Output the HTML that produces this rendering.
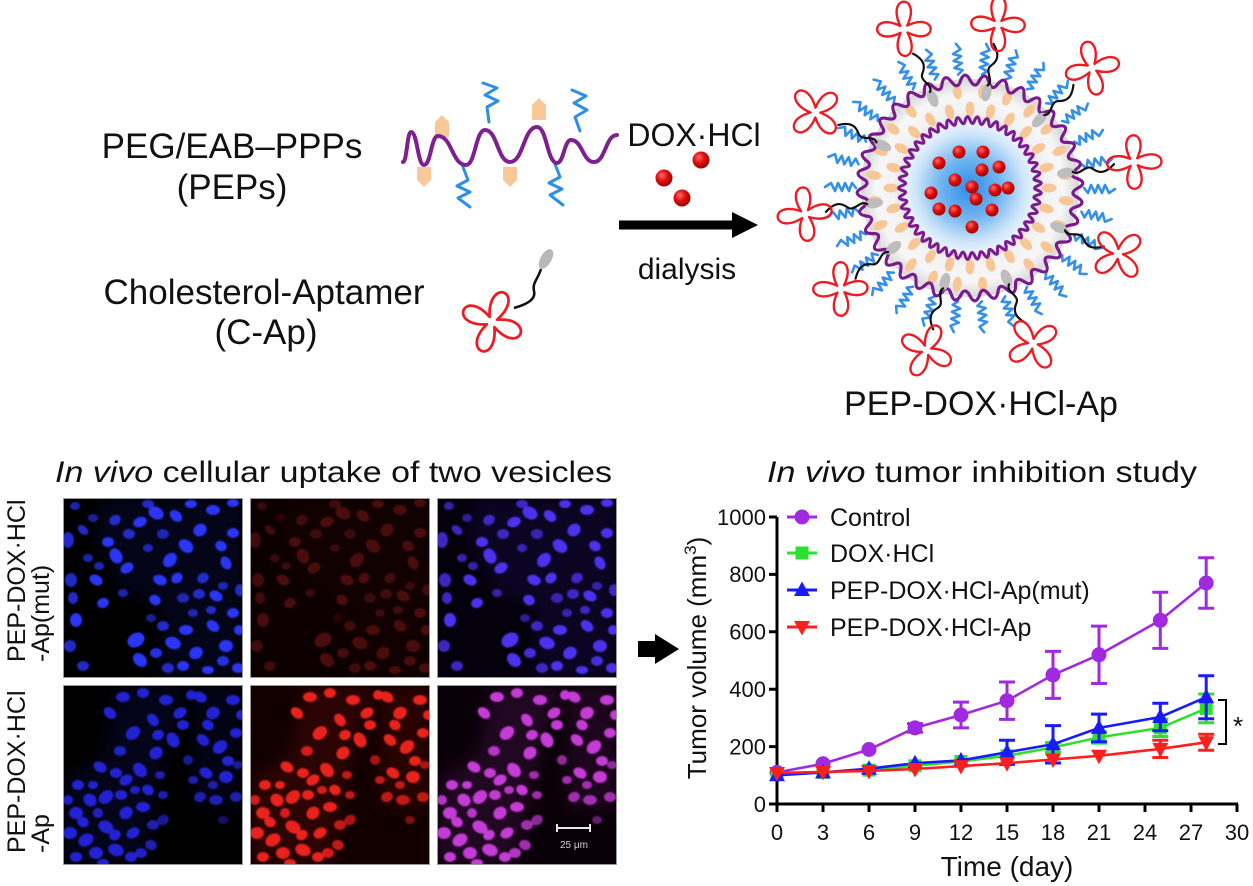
<!DOCTYPE html>
<html><head><meta charset="utf-8"><style>
html,body{margin:0;padding:0;background:#fff;}
svg{display:block;}
text{font-family:"Liberation Sans",Arial,sans-serif;fill:#111;}
</style></head><body>
<svg width="1253" height="886" viewBox="0 0 1253 886" xmlns="http://www.w3.org/2000/svg">
<defs>
  <radialGradient id="rb" cx="38%" cy="35%" r="65%"><stop offset="0" stop-color="#ff6a6a"/><stop offset="0.5" stop-color="#e01010"/><stop offset="1" stop-color="#a00000"/></radialGradient>
  <radialGradient id="coreG" gradientUnits="userSpaceOnUse" cx="0" cy="0" r="68"><stop offset="0" stop-color="#2c8ce8"/><stop offset="0.45" stop-color="#72b6f0"/><stop offset="0.8" stop-color="#cfe6f9"/><stop offset="1" stop-color="#eef6fd"/></radialGradient>
  <radialGradient id="shellG" gradientUnits="userSpaceOnUse" cx="0" cy="0" r="110"><stop offset="0.55" stop-color="#d8d8d8"/><stop offset="0.7" stop-color="#f3f3f3"/><stop offset="0.85" stop-color="#f7f7f7"/><stop offset="1" stop-color="#d4d4d4"/></radialGradient>
  <g id="clv" fill="none" stroke="#ec1c24" stroke-width="2.6" stroke-linejoin="round">
    <path d="M3,-3 C17,-30 -15,-31 -3,-3 C-29,-17 -30,15 -3,3 C-16,29 16,30 3,3 C29,17 30,-15 3,-3 Z"/>
  </g>
  <g id="clvB" fill="none" stroke="#ec1c24" stroke-width="2.4" stroke-linejoin="round">
    <path d="M3.5,-3.5 C20,-35 -17,-36 -3.5,-3.5 C-34,-20 -35,17 -3.5,3.5 C-18,34 18,35 3.5,3.5 C34,20 35,-17 3.5,-3.5 Z"/>
  </g>
  <path id="wo" d="M-9.41,-107.59 Q-5.15,-117.89 0,-108 T9.41,-107.59"/>
  <g id="wo6"><use href="#wo"/><use href="#wo" transform="rotate(10)"/><use href="#wo" transform="rotate(20)"/><use href="#wo" transform="rotate(30)"/><use href="#wo" transform="rotate(40)"/><use href="#wo" transform="rotate(50)"/></g>
  <path id="wi" d="M-4.74,-67.83 Q-2.62,-74.95 0,-68 T4.74,-67.83"/>
  <g id="wi5"><use href="#wi"/><use href="#wi" transform="rotate(8)"/><use href="#wi" transform="rotate(16)"/><use href="#wi" transform="rotate(24)"/><use href="#wi" transform="rotate(32)"/></g>
  <ellipse id="oe" cx="0" cy="-79" rx="4.5" ry="7.5"/>
  <g id="oe4"><use href="#oe"/><use href="#oe" transform="rotate(15)"/><use href="#oe" transform="rotate(30)"/><use href="#oe" transform="rotate(45)"/></g>
  <ellipse id="oo" cx="0" cy="-97" rx="4.5" ry="7.5"/>
  <g id="oo4"><use href="#oo"/><use href="#oo" transform="rotate(15)"/><use href="#oo" transform="rotate(30)"/><use href="#oo" transform="rotate(45)"/></g>
  <path id="sq" d="M0,-114 l5,-4 -8,-3 8,-4 -8,-3 8,-4 -8,-3 8,-4 -4,-6"/>
  <path id="lk" d="M0,-104 C6,-110 -6,-118 0,-124 S7,-136 -1,-146"/>
  <clipPath id="pc"><rect x="0" y="0" width="180" height="180"/></clipPath>
  <filter id="bl" x="-10%" y="-10%" width="120%" height="120%"><feGaussianBlur stdDeviation="0.9"/></filter>
  <filter id="bl2" x="-20%" y="-20%" width="140%" height="140%"><feGaussianBlur stdDeviation="8"/></filter>
  <g id="cellsA">
    <polygon points="40,0 180,0 180,180 95,180 100,110 60,92 30,40" opacity="0.1" filter="url(#bl2)"/>
    <g filter="url(#bl)">
    <ellipse cx="93" cy="15" rx="8" ry="6" transform="rotate(30 93 15)"/>
    <ellipse cx="77" cy="24" rx="7" ry="5" transform="rotate(-20 77 24)"/>
    <ellipse cx="113" cy="18" rx="7" ry="5" transform="rotate(40 113 18)"/>
    <ellipse cx="100" cy="36" rx="6" ry="5" opacity="0.7"/>
    <ellipse cx="53" cy="58" rx="8" ry="6" transform="rotate(60 53 58)"/>
    <ellipse cx="45" cy="44" rx="6" ry="5"/>
    <ellipse cx="64" cy="70" rx="7" ry="5" transform="rotate(-30 64 70)"/>
    <ellipse cx="107" cy="62" rx="8" ry="6" transform="rotate(-50 107 62)"/>
    <ellipse cx="123" cy="48" rx="8" ry="6" transform="rotate(40 123 48)"/>
    <ellipse cx="97" cy="82" rx="7" ry="5" transform="rotate(20 97 82)"/>
    <ellipse cx="137" cy="32" rx="7" ry="6" transform="rotate(-40 137 32)"/>
    <ellipse cx="150" cy="12" rx="7" ry="5"/>
    <ellipse cx="163" cy="65" rx="7" ry="5" transform="rotate(60 163 65)"/>
    <ellipse cx="153" cy="98" rx="7" ry="5" transform="rotate(30 153 98)"/>
    <ellipse cx="170" cy="115" rx="6" ry="5"/>
    <ellipse cx="5" cy="42" rx="6" ry="8" opacity="0.8"/>
    <ellipse cx="8" cy="82" rx="6" ry="7" opacity="0.8"/>
    <ellipse cx="13" cy="122" rx="6" ry="7"/>
    <ellipse cx="7" cy="148" rx="6" ry="6" opacity="0.8"/>
    <ellipse cx="33" cy="82" rx="7" ry="5" transform="rotate(30 33 82)"/>
    <ellipse cx="40" cy="105" rx="6" ry="5" transform="rotate(-20 40 105)"/>
    <ellipse cx="73" cy="142" rx="9" ry="7" transform="rotate(-30 73 142)"/>
    <ellipse cx="77" cy="162" rx="8" ry="6" transform="rotate(45 77 162)"/>
    <ellipse cx="110" cy="145" rx="8" ry="6" transform="rotate(20 110 145)"/>
    <ellipse cx="123" cy="132" rx="7" ry="5"/>
    <ellipse cx="133" cy="155" rx="7" ry="6" transform="rotate(-30 133 155)"/>
    <ellipse cx="150" cy="128" rx="7" ry="5" transform="rotate(40 150 128)"/>
    <ellipse cx="163" cy="148" rx="7" ry="6"/>
    <ellipse cx="20" cy="168" rx="6" ry="5" opacity="0.8"/>
    <ellipse cx="140" cy="80" rx="6" ry="5" transform="rotate(-30 140 80)" opacity="0.8"/>
    <ellipse cx="120" cy="100" rx="6" ry="5" opacity="0.7"/>
    <ellipse cx="170" cy="35" rx="6" ry="5"/>
    <ellipse cx="25" cy="60" rx="5" ry="4" opacity="0.7"/>
    <ellipse cx="60" cy="95" rx="5" ry="4" opacity="0.7"/>
    <ellipse cx="175" cy="170" rx="6" ry="5"/>
    <ellipse cx="145" cy="172" rx="6" ry="4"/>
    <ellipse cx="105" cy="170" rx="6" ry="5" opacity="0.8"/>
    <ellipse cx="85" cy="50" rx="5" ry="4" opacity="0.7"/>
    <ellipse cx="30" cy="20" rx="5" ry="4" opacity="0.6"/>
    <ellipse cx="160" cy="88" rx="5" ry="4" opacity="0.7"/>
    <ellipse cx="130" cy="115" rx="5" ry="4" opacity="0.7"/>
    <ellipse cx="88" cy="120" rx="5" ry="4" opacity="0.6"/>
    <ellipse cx="12" cy="8" rx="5" ry="4" opacity="0.7"/>
    <ellipse cx="20" cy="32" rx="6" ry="4" transform="rotate(40 20 32)" opacity="0.8"/>
    <ellipse cx="36" cy="68" rx="5" ry="4" opacity="0.7"/>
    <ellipse cx="52" cy="22" rx="6" ry="5" transform="rotate(-30 52 22)" opacity="0.8"/>
    <ellipse cx="66" cy="36" rx="6" ry="5" opacity="0.8"/>
    <ellipse cx="85" cy="6" rx="6" ry="4" opacity="0.8"/>
    <ellipse cx="128" cy="6" rx="6" ry="4"/>
    <ellipse cx="158" cy="48" rx="6" ry="5" transform="rotate(30 158 48)"/>
    <ellipse cx="177" cy="92" rx="5" ry="6" opacity="0.8"/>
    <ellipse cx="114" cy="80" rx="6" ry="5" transform="rotate(-40 114 80)"/>
    <ellipse cx="136" cy="96" rx="6" ry="5" opacity="0.8"/>
    <ellipse cx="148" cy="112" rx="5" ry="4" opacity="0.8"/>
    <ellipse cx="92" cy="102" rx="6" ry="5" transform="rotate(30 92 102)"/>
    <ellipse cx="10" cy="100" rx="5" ry="6" opacity="0.8"/>
    <ellipse cx="170" cy="5" rx="6" ry="4"/>
    <ellipse cx="100" cy="128" rx="6" ry="5" opacity="0.8"/>
    <ellipse cx="120" cy="168" rx="6" ry="5"/>
    <ellipse cx="160" cy="163" rx="6" ry="5" opacity="0.9"/>
    <ellipse cx="176" cy="132" rx="5" ry="5"/>
    <ellipse cx="93" cy="155" rx="6" ry="5" opacity="0.9"/>
    </g>
  </g>
  <g id="cellsB">
    <polygon points="0,95 40,70 55,0 125,0 100,80 80,180 0,180" opacity="0.12" filter="url(#bl2)"/>
    <polygon points="130,0 180,0 180,125 130,120" opacity="0.1" filter="url(#bl2)"/>
    <g filter="url(#bl)">
    <ellipse cx="47" cy="28" rx="7" ry="5" transform="rotate(40 47 28)"/>
    <ellipse cx="60" cy="12" rx="7" ry="5"/>
    <ellipse cx="70" cy="48" rx="8" ry="6" transform="rotate(-40 70 48)"/>
    <ellipse cx="90" cy="35" rx="7" ry="5" transform="rotate(50 90 35)"/>
    <ellipse cx="103" cy="15" rx="7" ry="5"/>
    <ellipse cx="117" cy="28" rx="7" ry="5" transform="rotate(-30 117 28)"/>
    <ellipse cx="110" cy="55" rx="8" ry="6" transform="rotate(60 110 55)"/>
    <ellipse cx="93" cy="68" rx="7" ry="6" transform="rotate(-40 93 68)"/>
    <ellipse cx="77" cy="85" rx="8" ry="6" transform="rotate(50 77 85)"/>
    <ellipse cx="63" cy="95" rx="7" ry="5" transform="rotate(-30 63 95)"/>
    <ellipse cx="53" cy="88" rx="6" ry="5"/>
    <ellipse cx="37" cy="82" rx="7" ry="5" transform="rotate(30 37 82)"/>
    <ellipse cx="43" cy="112" rx="8" ry="6" transform="rotate(-40 43 112)"/>
    <ellipse cx="27" cy="115" rx="7" ry="6" transform="rotate(40 27 115)"/>
    <ellipse cx="13" cy="128" rx="7" ry="6"/>
    <ellipse cx="7" cy="148" rx="7" ry="6"/>
    <ellipse cx="23" cy="155" rx="8" ry="6" transform="rotate(-30 23 155)"/>
    <ellipse cx="43" cy="142" rx="8" ry="6" transform="rotate(30 43 142)"/>
    <ellipse cx="63" cy="128" rx="7" ry="6" transform="rotate(-40 63 128)"/>
    <ellipse cx="80" cy="122" rx="7" ry="5"/>
    <ellipse cx="53" cy="165" rx="8" ry="6" transform="rotate(20 53 165)"/>
    <ellipse cx="33" cy="168" rx="7" ry="6"/>
    <ellipse cx="70" cy="148" rx="7" ry="5" transform="rotate(-30 70 148)"/>
    <ellipse cx="13" cy="172" rx="6" ry="5"/>
    <ellipse cx="15" cy="100" rx="6" ry="5"/>
    <ellipse cx="68" cy="172" rx="6" ry="5"/>
    <ellipse cx="137" cy="12" rx="7" ry="5" transform="rotate(30 137 12)"/>
    <ellipse cx="150" cy="28" rx="7" ry="6" transform="rotate(-30 150 28)"/>
    <ellipse cx="170" cy="15" rx="7" ry="5"/>
    <ellipse cx="140" cy="55" rx="7" ry="5" transform="rotate(40 140 55)"/>
    <ellipse cx="157" cy="62" rx="8" ry="6" transform="rotate(-40 157 62)"/>
    <ellipse cx="173" cy="48" rx="6" ry="5"/>
    <ellipse cx="143" cy="88" rx="7" ry="5" transform="rotate(30 143 88)"/>
    <ellipse cx="163" cy="92" rx="7" ry="6"/>
    <ellipse cx="137" cy="112" rx="6" ry="5" transform="rotate(-20 137 112)" opacity="0.8"/>
    <ellipse cx="153" cy="115" rx="7" ry="5" opacity="0.8"/>
    <ellipse cx="173" cy="112" rx="6" ry="5" opacity="0.8"/>
    <ellipse cx="85" cy="105" rx="6" ry="5" transform="rotate(30 85 105)"/>
    <ellipse cx="97" cy="90" rx="5" ry="4" opacity="0.8"/>
    <ellipse cx="125" cy="75" rx="5" ry="5" opacity="0.7"/>
    <ellipse cx="100" cy="135" rx="6" ry="5" transform="rotate(-30 100 135)" opacity="0.7"/>
    <ellipse cx="88" cy="160" rx="6" ry="5" transform="rotate(20 88 160)" opacity="0.8"/>
    <ellipse cx="120" cy="40" rx="6" ry="5"/>
    <ellipse cx="30" cy="100" rx="5" ry="4"/>
    <ellipse cx="175" cy="80" rx="5" ry="4" opacity="0.7"/>
    <ellipse cx="160" cy="135" rx="5" ry="4" opacity="0.5"/>
    <ellipse cx="5" cy="115" rx="5" ry="5" opacity="0.9"/>
    <ellipse cx="20" cy="137" rx="6" ry="5" transform="rotate(30 20 137)"/>
    <ellipse cx="35" cy="128" rx="5" ry="5" opacity="0.9"/>
    <ellipse cx="52" cy="150" rx="6" ry="5" transform="rotate(-30 52 150)"/>
    <ellipse cx="58" cy="110" rx="6" ry="5"/>
    <ellipse cx="72" cy="105" rx="5" ry="4" opacity="0.9"/>
    <ellipse cx="90" cy="140" rx="6" ry="5" opacity="0.8"/>
    <ellipse cx="78" cy="168" rx="6" ry="5" opacity="0.9"/>
    <ellipse cx="40" cy="178" rx="6" ry="4"/>
    <ellipse cx="100" cy="110" rx="5" ry="4" opacity="0.8"/>
    <ellipse cx="128" cy="10" rx="5" ry="5"/>
    <ellipse cx="145" cy="40" rx="6" ry="5" transform="rotate(30 145 40)"/>
    <ellipse cx="165" cy="76" rx="6" ry="5"/>
    <ellipse cx="150" cy="100" rx="5" ry="4" opacity="0.8"/>
    <ellipse cx="178" cy="30" rx="5" ry="5"/>
    <ellipse cx="130" cy="95" rx="5" ry="4" opacity="0.8"/>
    <ellipse cx="80" cy="8" rx="6" ry="5"/>
    <ellipse cx="95" cy="50" rx="6" ry="5" transform="rotate(-20 95 50)"/>
    <ellipse cx="57" cy="66" rx="6" ry="5" opacity="0.9"/>
    </g>
  </g>
  <circle id="mc" r="7.5" fill="#a12ae0"/>
  <rect id="ms" x="-6.5" y="-6.5" width="13" height="13" fill="#2ee02e"/>
  <polygon id="mt" points="0,-8.5 8,6 -8,6" fill="#1a1aff"/>
  <polygon id="mv" points="-8,-6 8,-6 0,8.5" fill="#ff1e1e"/>
</defs>

<rect width="1253" height="886" fill="#fff"/>

<!-- Top-left schematic text -->
<text x="232" y="158" font-size="35" text-anchor="middle">PEG/EAB–PPPs</text>
<text x="232" y="199" font-size="35" text-anchor="middle">(PEPs)</text>
<text x="264" y="304" font-size="35" text-anchor="middle">Cholesterol-Aptamer</text>
<text x="266" y="344" font-size="35" text-anchor="middle">(C-Ap)</text>

<!-- polymer chain -->
<g fill="#f8c898">
  <polygon points="435,122 442,115 449,122 449,137 435,137"/>
  <polygon points="532,105 539,98 546,105 546,120 532,120"/>
  <polygon points="417,167 431,167 431,180 424,187 417,180"/>
  <polygon points="503,167 517,167 517,180 510,187 503,180"/>
</g>
<g fill="none" stroke="#2b8fe8" stroke-width="3" stroke-linejoin="round" stroke-linecap="round">
  <path d="M483,83 L497,88 L485,95 L498,101 L487,107 L489,122"/>
  <path d="M572,90 L586,96 L574,103 L587,110 L575,117 L580,131"/>
  <path d="M463,167 L468,180 L457,186 L470,192 L458,198 L470,207"/>
  <path d="M555,164 L560,177 L549,183 L562,189 L550,195 L563,205"/>
</g>
<path d="M403,162 C407,162 407,132 411,132 C417.5,132 417.5,165 424,165 C431,165 431,136 438,136 C452,136 452,165 466,165 C475.5,165 475.5,130 485,130 C497.5,130 497.5,162 510,162 C523.5,162 523.5,127 537,127 C547,127 547,163 557,163 C564,163 564,140 571,140 C582.5,140 582.5,162 594,162 C605.5,162 605.5,135 617,135" fill="none" stroke="#7d2090" stroke-width="4" stroke-linecap="round"/>

<!-- cholesterol-aptamer -->
<ellipse cx="546" cy="259" rx="5.5" ry="11" fill="#b8b8b8" transform="rotate(30 546 259)"/>
<path d="M541,269 C538,279 532,283 534,291 S528,304 514,308" fill="none" stroke="#111" stroke-width="2.5"/>
<use href="#clvB" transform="translate(492,322) scale(1.15) rotate(20)"/>

<!-- DOX + arrow -->
<text x="694" y="146" font-size="32" text-anchor="middle">DOX·HCl</text>
<circle cx="701" cy="160" r="8.5" fill="url(#rb)"/>
<circle cx="664" cy="178" r="8.5" fill="url(#rb)"/>
<circle cx="682" cy="198" r="8.5" fill="url(#rb)"/>
<rect x="619" y="220.5" width="116" height="9" fill="#000"/>
<polygon points="732,212 758,225 732,238" fill="#000"/>
<text x="687" y="279" font-size="30" text-anchor="middle">dialysis</text>

<!-- Vesicle -->
<g transform="translate(970,188)">
  <circle r="109" fill="url(#shellG)"/>
  <g fill="#f8c797">
    <use href="#oe4"/><use href="#oe4" transform="rotate(60)"/><use href="#oe4" transform="rotate(120)"/><use href="#oe4" transform="rotate(180)"/><use href="#oe4" transform="rotate(240)"/><use href="#oe4" transform="rotate(300)"/>
    <use href="#oo4" transform="rotate(7.5)"/><use href="#oo4" transform="rotate(67.5)"/><use href="#oo4" transform="rotate(127.5)"/><use href="#oo4" transform="rotate(187.5)"/><use href="#oo4" transform="rotate(247.5)"/><use href="#oo4" transform="rotate(307.5)"/>
  </g>
  <circle r="67" fill="url(#coreG)"/>
  <g fill="url(#rb)">
    <circle cx="-11" cy="-36" r="6.5"/><circle cx="13" cy="-36" r="6.5"/><circle cx="-31" cy="-25" r="6.5"/>
    <circle cx="12" cy="-18" r="6.5"/><circle cx="29" cy="-21" r="6.5"/><circle cx="-15" cy="-8" r="6.5"/>
    <circle cx="2" cy="-1" r="6.5"/><circle cx="25" cy="2" r="6.5"/><circle cx="38" cy="0" r="6.5"/>
    <circle cx="-39" cy="5" r="6.5"/><circle cx="6" cy="11" r="6.5"/><circle cx="-31" cy="21" r="6.5"/>
    <circle cx="-15" cy="23" r="6.5"/><circle cx="22" cy="22" r="6.5"/><circle cx="2" cy="39" r="6.5"/>
  </g>
  <g fill="none" stroke="#7a1a8e" stroke-width="3" stroke-linecap="round">
    <use href="#wi5"/><use href="#wi5" transform="rotate(40)"/><use href="#wi5" transform="rotate(80)"/><use href="#wi5" transform="rotate(120)"/><use href="#wi5" transform="rotate(160)"/><use href="#wi5" transform="rotate(200)"/><use href="#wi5" transform="rotate(240)"/><use href="#wi5" transform="rotate(280)"/><use href="#wi5" transform="rotate(320)"/>
  </g>
  <g fill="none" stroke="#3590ea" stroke-width="2.6" stroke-linejoin="round" stroke-linecap="round">
    <use href="#sq" transform="rotate(6)"/><use href="#sq" transform="rotate(18)"/><use href="#sq" transform="rotate(30)"/><use href="#sq" transform="rotate(42)"/><use href="#sq" transform="rotate(54)"/><use href="#sq" transform="rotate(66)"/><use href="#sq" transform="rotate(78)"/><use href="#sq" transform="rotate(90)"/><use href="#sq" transform="rotate(102)"/><use href="#sq" transform="rotate(114)"/>
    <use href="#sq" transform="rotate(126)"/><use href="#sq" transform="rotate(138)"/><use href="#sq" transform="rotate(150)"/><use href="#sq" transform="rotate(162)"/><use href="#sq" transform="rotate(174)"/><use href="#sq" transform="rotate(186)"/><use href="#sq" transform="rotate(198)"/><use href="#sq" transform="rotate(210)"/><use href="#sq" transform="rotate(222)"/><use href="#sq" transform="rotate(234)"/>
    <use href="#sq" transform="rotate(246)"/><use href="#sq" transform="rotate(258)"/><use href="#sq" transform="rotate(270)"/><use href="#sq" transform="rotate(282)"/><use href="#sq" transform="rotate(294)"/><use href="#sq" transform="rotate(306)"/><use href="#sq" transform="rotate(318)"/><use href="#sq" transform="rotate(330)"/><use href="#sq" transform="rotate(342)"/><use href="#sq" transform="rotate(354)"/>
  </g>
  <g fill="none" stroke="#7a1a8e" stroke-width="3.2" stroke-linecap="round">
    <use href="#wo6"/><use href="#wo6" transform="rotate(60)"/><use href="#wo6" transform="rotate(120)"/><use href="#wo6" transform="rotate(180)"/><use href="#wo6" transform="rotate(240)"/><use href="#wo6" transform="rotate(300)"/>
  </g>
  <g stroke-linecap="round">
    <g transform="rotate(-22.6)"><ellipse cx="0" cy="-97" rx="5" ry="9" fill="#bdbdbd"/><use href="#lk" fill="none" stroke="#111" stroke-width="2.2"/><use href="#clvB" transform="translate(0,-172) rotate(20)"/></g>
    <g transform="rotate(9.7)"><ellipse cx="0" cy="-97" rx="5" ry="9" fill="#bdbdbd"/><use href="#lk" fill="none" stroke="#111" stroke-width="2.2"/><use href="#clvB" transform="translate(0,-166) rotate(-10)"/></g>
    <g transform="rotate(45.5)"><ellipse cx="0" cy="-97" rx="5" ry="9" fill="#bdbdbd"/><use href="#lk" fill="none" stroke="#111" stroke-width="2.2"/><use href="#clvB" transform="translate(0,-171) rotate(30)"/></g>
    <g transform="rotate(81)"><ellipse cx="0" cy="-97" rx="5" ry="9" fill="#bdbdbd"/><use href="#lk" fill="none" stroke="#111" stroke-width="2.2"/><use href="#clvB" transform="translate(0,-166) rotate(5)"/></g>
    <g transform="rotate(114)"><ellipse cx="0" cy="-97" rx="5" ry="9" fill="#bdbdbd"/><use href="#lk" fill="none" stroke="#111" stroke-width="2.2"/><use href="#clvB" transform="translate(0,-162) rotate(25)"/></g>
    <g transform="rotate(158)"><ellipse cx="0" cy="-97" rx="5" ry="9" fill="#bdbdbd"/><use href="#lk" fill="none" stroke="#111" stroke-width="2.2"/><use href="#clvB" transform="translate(0,-168) rotate(-15)"/></g>
    <g transform="rotate(195)"><ellipse cx="0" cy="-97" rx="5" ry="9" fill="#bdbdbd"/><use href="#lk" fill="none" stroke="#111" stroke-width="2.2"/><use href="#clvB" transform="translate(0,-168) rotate(10)"/></g>
    <g transform="rotate(232)"><ellipse cx="0" cy="-97" rx="5" ry="9" fill="#bdbdbd"/><use href="#lk" fill="none" stroke="#111" stroke-width="2.2"/><use href="#clvB" transform="translate(0,-164) rotate(35)"/></g>
    <g transform="rotate(261)"><ellipse cx="0" cy="-97" rx="5" ry="9" fill="#bdbdbd"/><use href="#lk" fill="none" stroke="#111" stroke-width="2.2"/><use href="#clvB" transform="translate(0,-167) rotate(0)"/></g>
    <g transform="rotate(296)"><ellipse cx="0" cy="-97" rx="5" ry="9" fill="#bdbdbd"/><use href="#lk" fill="none" stroke="#111" stroke-width="2.2"/><use href="#clvB" transform="translate(0,-172) rotate(20)"/></g>
  </g>
</g>
<text x="981" y="415" font-size="34" text-anchor="middle">PEP-DOX·HCl-Ap</text>

<!-- Bottom titles -->
<text x="55" y="482" font-size="30" textLength="557" lengthAdjust="spacingAndGlyphs"><tspan font-style="italic">In vivo</tspan> cellular uptake of two vesicles</text>
<text x="767" y="482" font-size="30" textLength="430" lengthAdjust="spacingAndGlyphs"><tspan font-style="italic">In vivo</tspan> tumor inhibition study</text>

<!-- row labels -->
<text transform="translate(25,662) rotate(-90)" font-size="25">PEP-DOX·HCl</text>
<text transform="translate(49,662) rotate(-90)" font-size="25">-Ap(mut)</text>
<text transform="translate(25,853) rotate(-90)" font-size="25">PEP-DOX·HCl</text>
<text transform="translate(49,853) rotate(-90)" font-size="25">-Ap</text>

<!-- microscopy panels -->
<g transform="translate(63,498)" clip-path="url(#pc)"><rect width="180" height="180" fill="#000"/><use href="#cellsA" fill="#2a35f5"/></g>
<g transform="translate(250,498)" clip-path="url(#pc)"><rect width="180" height="180" fill="#0c0000"/><use href="#cellsA" fill="#4a0a0a"/></g>
<g transform="translate(437,498)" clip-path="url(#pc)"><rect width="180" height="180" fill="#04000c"/><use href="#cellsA" fill="#4c30ee"/></g>
<g transform="translate(63,685)" clip-path="url(#pc)"><rect width="180" height="180" fill="#000"/><use href="#cellsB" fill="#2424d4"/></g>
<g transform="translate(250,685)" clip-path="url(#pc)"><rect width="180" height="180" fill="#120000"/><use href="#cellsB" fill="#e8201c"/></g>
<g transform="translate(437,685)" clip-path="url(#pc)"><rect width="180" height="180" fill="#0a0008"/><use href="#cellsB" fill="#c43ad6"/></g>
<g fill="none" stroke="#9a9a9a" stroke-width="1">
  <rect x="63.5" y="498.5" width="179" height="179"/><rect x="250.5" y="498.5" width="179" height="179"/><rect x="437.5" y="498.5" width="179" height="179"/>
  <rect x="63.5" y="685.5" width="179" height="179"/><rect x="250.5" y="685.5" width="179" height="179"/><rect x="437.5" y="685.5" width="179" height="179"/>
</g>
<path d="M557,828 H590 M557,824 V832 M590,824 V832" stroke="#e6e6e6" stroke-width="2" fill="none"/>
<text x="574" y="848" font-size="10" text-anchor="middle" style="fill:#d0d0d0">25 μm</text>

<!-- middle arrow -->
<rect x="638" y="641" width="18" height="16" fill="#000"/>
<polygon points="655,634 679,649 655,664" fill="#000"/>

<!-- Chart -->
<g stroke="#000" stroke-width="3" fill="none">
  <path d="M777,517 V805.5"/>
  <path d="M775.5,804 H1238"/>
  <path d="M769,517 H777 M769,574.4 H777 M769,631.8 H777 M769,689.2 H777 M769,746.6 H777 M769,804 H777"/>
  <path d="M777,804 V812 M823,804 V812 M869,804 V812 M915,804 V812 M961,804 V812 M1007,804 V812 M1053,804 V812 M1099,804 V812 M1145,804 V812 M1191,804 V812 M1237,804 V812"/>
</g>
<g font-size="22" text-anchor="end">
  <text x="766" y="525">1000</text><text x="766" y="582">800</text><text x="766" y="639.5">600</text>
  <text x="766" y="697">400</text><text x="766" y="754.5">200</text><text x="766" y="812">0</text>
</g>
<g font-size="22" text-anchor="middle">
  <text x="777" y="840">0</text><text x="823" y="840">3</text><text x="869" y="840">6</text><text x="915" y="840">9</text>
  <text x="961" y="840">12</text><text x="1007" y="840">15</text><text x="1053" y="840">18</text><text x="1099" y="840">21</text>
  <text x="1145" y="840">24</text><text x="1191" y="840">27</text><text x="1237" y="840">30</text>
</g>
<text x="1007" y="876" font-size="28" text-anchor="middle">Time (day)</text>
<text transform="translate(706,658) rotate(-90)" font-size="26" text-anchor="middle">Tumor volume (mm<tspan font-size="17" dy="-10">3</tspan><tspan dy="10">)</tspan></text>

<!-- series: Control -->
<g stroke="#a12ae0" stroke-width="2.6" fill="none">
  <polyline points="777,772.4 823,763.8 869,749.5 915,727.9 961,715 1007,700.7 1053,674.9 1099,654.8 1160.3,620.3 1206.2,583"/>
  <path stroke-width="3" d="M915,723.6V732.2 M907,723.6H923 M907,732.2H923 M961,702.1V727.9 M953,702.1H969 M953,727.9H969 M1007,682V719.4 M999,682H1015 M999,719.4H1015 M1053,651.4V698.4 M1045,651.4H1061 M1045,698.4H1061 M1099,626.1V683.5 M1091,626.1H1107 M1091,683.5H1107 M1160.3,592.2V648.4 M1152.3,592.2H1168.3 M1152.3,648.4H1168.3 M1206.2,557.7V608.3 M1198.2,557.7H1214.2 M1198.2,608.3H1214.2"/>
</g>
<g><use href="#mc" x="777" y="772.4"/><use href="#mc" x="823" y="763.8"/><use href="#mc" x="869" y="749.5"/><use href="#mc" x="915" y="727.9"/><use href="#mc" x="961" y="715"/><use href="#mc" x="1007" y="700.7"/><use href="#mc" x="1053" y="674.9"/><use href="#mc" x="1099" y="654.8"/><use href="#mc" x="1160.3" y="620.3"/><use href="#mc" x="1206.2" y="583"/></g>
<!-- DOX·HCl -->
<g stroke="#2ee02e" stroke-width="2.6" fill="none">
  <polyline points="777,773.9 823,772.4 869,770.1 915,765.8 961,761.5 1007,755.8 1053,747.5 1099,737.4 1160.3,727.9 1206.2,708.4"/>
  <path stroke-width="3" d="M1053,742.5V752.5 M1045,742.5H1061 M1045,752.5H1061 M1099,731.7V743.1 M1091,731.7H1107 M1091,743.1H1107 M1160.3,719.3V736.5 M1152.3,719.3H1168.3 M1152.3,736.5H1168.3 M1206.2,694V722.8 M1198.2,694H1214.2 M1198.2,722.8H1214.2"/>
</g>
<g><use href="#ms" x="777" y="773.9"/><use href="#ms" x="823" y="772.4"/><use href="#ms" x="869" y="770.1"/><use href="#ms" x="915" y="765.8"/><use href="#ms" x="961" y="761.5"/><use href="#ms" x="1007" y="755.8"/><use href="#ms" x="1053" y="747.5"/><use href="#ms" x="1099" y="737.4"/><use href="#ms" x="1160.3" y="727.9"/><use href="#ms" x="1206.2" y="708.4"/></g>
<!-- PEP mut -->
<g stroke="#1a1aff" stroke-width="2.6" fill="none">
  <polyline points="777,775.3 823,772.4 869,768.7 915,763.2 961,760.4 1007,752.3 1053,744.3 1099,727.9 1160.3,717 1206.2,697.2"/>
  <path stroke-width="3" d="M1007,740.2V764.4 M999,740.2H1015 M999,764.4H1015 M1053,725.6V763 M1045,725.6H1061 M1045,763H1061 M1099,714.1V741.7 M1091,714.1H1107 M1091,741.7H1107 M1160.3,703.2V730.8 M1152.3,703.2H1168.3 M1152.3,730.8H1168.3 M1206.2,675.7V718.7 M1198.2,675.7H1214.2 M1198.2,718.7H1214.2"/>
</g>
<g><use href="#mt" x="777" y="775.3"/><use href="#mt" x="823" y="772.4"/><use href="#mt" x="869" y="768.7"/><use href="#mt" x="915" y="763.2"/><use href="#mt" x="961" y="760.4"/><use href="#mt" x="1007" y="752.3"/><use href="#mt" x="1053" y="744.3"/><use href="#mt" x="1099" y="727.9"/><use href="#mt" x="1160.3" y="717"/><use href="#mt" x="1206.2" y="697.2"/></g>
<!-- PEP Ap -->
<g stroke="#ff1e1e" stroke-width="2.6" fill="none">
  <polyline points="777,773 823,771.9 869,771 915,769 961,766.1 1007,763.2 1053,759.5 1099,755.8 1160.3,748.9 1206.2,742.3"/>
  <path stroke-width="3" d="M1160.3,740.3V757.5 M1152.3,740.3H1168.3 M1152.3,757.5H1168.3 M1206.2,734.3V750.3 M1198.2,734.3H1214.2 M1198.2,750.3H1214.2"/>
</g>
<g><use href="#mv" x="777" y="773"/><use href="#mv" x="823" y="771.9"/><use href="#mv" x="869" y="771"/><use href="#mv" x="915" y="769"/><use href="#mv" x="961" y="766.1"/><use href="#mv" x="1007" y="763.2"/><use href="#mv" x="1053" y="759.5"/><use href="#mv" x="1099" y="755.8"/><use href="#mv" x="1160.3" y="748.9"/><use href="#mv" x="1206.2" y="742.3"/></g>

<!-- significance -->
<path d="M1218,700 H1226 V744 H1218" fill="none" stroke="#000" stroke-width="2"/>
<text x="1238" y="735" font-size="26" text-anchor="middle">*</text>

<!-- legend -->
<g stroke-width="3">
  <line x1="787" y1="517" x2="817" y2="517" stroke="#a12ae0"/>
  <line x1="787" y1="553" x2="817" y2="553" stroke="#2ee02e"/>
  <line x1="787" y1="590" x2="817" y2="590" stroke="#1a1aff"/>
  <line x1="787" y1="627" x2="817" y2="627" stroke="#ff1e1e"/>
</g>
<use href="#mc" x="802" y="517"/><use href="#ms" x="802" y="553"/><use href="#mt" x="802" y="590"/><use href="#mv" x="802" y="627"/>
<g font-size="25">
  <text x="830" y="526">Control</text>
  <text x="830" y="562">DOX·HCl</text>
  <text x="830" y="599">PEP-DOX·HCl-Ap(mut)</text>
  <text x="830" y="636">PEP-DOX·HCl-Ap</text>
</g>
</svg>
</body></html>
